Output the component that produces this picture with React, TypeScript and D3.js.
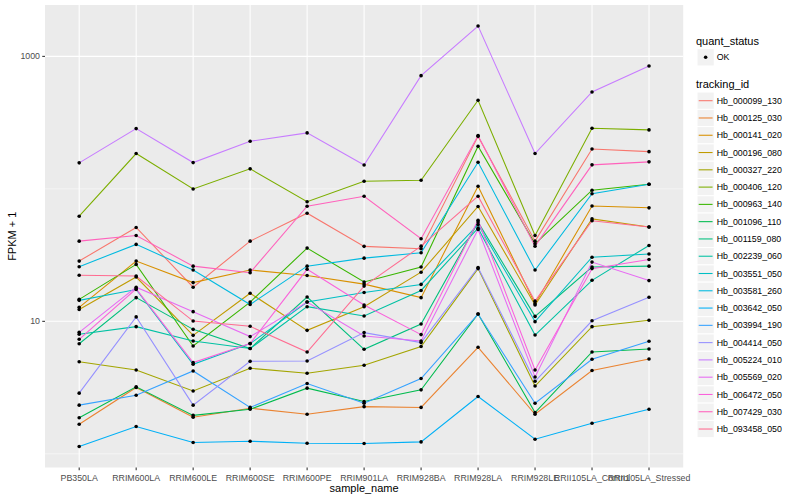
import React, { useEffect, useRef } from 'react'
import * as d3 from 'd3'

const sampleNames = [
  'PB350LA', 'RRIM600LA', 'RRIM600LE', 'RRIM600SE', 'RRIM600PE', 'RRIM901LA',
  'RRIM928BA', 'RRIM928LA', 'RRIM928LE', 'RRII105LA_Control', 'RRII105LA_Stressed'
]

const trackingIds = [
  'Hb_000099_130', 'Hb_000125_030', 'Hb_000141_020', 'Hb_000196_080', 'Hb_000327_220',
  'Hb_000406_120', 'Hb_000963_140', 'Hb_001096_110', 'Hb_001159_080', 'Hb_002239_060',
  'Hb_003551_050', 'Hb_003581_260', 'Hb_003642_050', 'Hb_003994_190', 'Hb_004414_050',
  'Hb_005224_010', 'Hb_005569_020', 'Hb_006472_050', 'Hb_007429_030', 'Hb_093458_050'
]

// ggplot hue palette, 20 levels
const trackingColors = [
  '#F8766D', '#EA8331', '#D89000', '#C09B00', '#A3A500', '#7CAE00', '#39B600', '#00BB4E',
  '#00BF7D', '#00C1A3', '#00BFC4', '#00BAE0', '#00B0F6', '#35A2FF', '#9590FF', '#C77CFF',
  '#E76BF3', '#FA62DB', '#FF62BC', '#FF6C91'
]

// FPKM + 1, one value per sample (same order as sampleNames)
const hb000099_130 = [28.5, 51.1, 18.1, 40.3, 65.5, 36.8, 35.3, 249, 40.3, 200, 191]
const hb000125_030 = [1.67, 3.17, 1.89, 2.21, 1.99, 2.27, 2.24, 6.37, 1.99, 4.25, 5.2]
const hb000141_020 = [12.75, 28.5, 19.6, 24.4, 22.2, 19.1, 15.1, 104.7, 13.6, 74.2, 71.9]
const hb000196_080 = [12.3, 21.6, 7.84, 16.3, 8.55, 12.9, 23.5, 73.6, 13.3, 59.3, 51.6]
const hb000327_220 = [4.95, 4.29, 2.98, 4.42, 4.06, 4.66, 6.45, 25, 3.25, 9.12, 10.2]
const hb000406_120 = [62.2, 184.7, 99.7, 141.6, 79.9, 114.2, 116.2, 466, 44.5, 286.6, 278.7]
const hb000963_140 = [14.65, 26.9, 6.51, 13.98, 35.7, 19.8, 25.7, 209.7, 38.5, 97.7, 108.4]
const hb001096_110 = [1.87, 3.2, 1.95, 2.17, 3.13, 2.48, 3.04, 11.35, 2.05, 5.87, 6.18]
const hb001159_080 = [6.77, 15.1, 8.7, 6.23, 15.25, 6.15, 9.54, 56.1, 10.9, 25.7, 26.1]
const hb002239_060 = [7.98, 9.12, 7.1, 6.23, 12.9, 10.96, 17.1, 50.5, 7.88, 20.4, 37.4]
const hb003551_050 = [14.4, 17.4, 4.74, 6.79, 13.98, 16.5, 19, 53.8, 9.95, 30.5, 32.2]
const hb003581_260 = [25.85, 38.1, 24.4, 13.4, 26.1, 30, 32.96, 158.8, 24.4, 91.8, 108.4]
const hb003642_050 = [1.136, 1.608, 1.218, 1.245, 1.203, 1.197, 1.23, 2.706, 1.289, 1.703, 2.171]
const hb003994_190 = [2.33, 2.77, 4.22, 2.24, 3.39, 2.41, 3.7, 11.35, 2.41, 5.17, 7.07]
const hb004414_050 = [2.87, 10.8, 2.33, 4.99, 5.02, 8.22, 6.91, 25.5, 3.53, 10.1, 15.2]
const hb005224_010 = [157.1, 285.1, 157.9, 228.7, 264.6, 151.3, 715.3, 1695, 184.7, 539, 846.5]
const hb005569_020 = [8.26, 18.1, 11.83, 7.67, 13.98, 7.75, 7.1, 49.4, 3.8, 28, 20.3]
const hb006472_050 = [7.32, 17.6, 4.88, 6.79, 24.7, 13.3, 7.94, 58, 4.29, 25, 29.3]
const hb007429_030 = [40.3, 44.5, 26.1, 23.3, 74, 88, 42, 252.5, 36.96, 151.8, 159.9]
const hb093458_050 = [22.3, 21.96, 10.05, 9.17, 5.87, 18.45, 36.96, 88, 14.2, 57.4, 51.6]

const seriesValues = [
  hb000099_130, hb000125_030, hb000141_020, hb000196_080, hb000327_220,
  hb000406_120, hb000963_140, hb001096_110, hb001159_080, hb002239_060,
  hb003551_050, hb003581_260, hb003642_050, hb003994_190, hb004414_050,
  hb005224_010, hb005569_020, hb006472_050, hb007429_030, hb093458_050
]

const majorBreaks = [10, 1000]
const minorBreaks = [1, 100, 10000]

const FONT = '"Liberation Sans", Arial, Helvetica, sans-serif'
const panel = { left: 45, right: 683.2, top: 5, bottom: 467.5 }

const App: React.FC = () => {
  const svgRef = useRef<SVGSVGElement>(null)

  useEffect(() => {
    if (!svgRef.current) return
    const svg = d3.select(svgRef.current)
    svg.selectAll('*').remove()

    const x = d3.scalePoint<string>()
      .domain(sampleNames)
      .range([panel.left, panel.right])
      .padding(0.6)

    // ggplot style 5% expansion on the log scale
    const logExt = d3.extent(seriesValues.flat(), v => Math.log10(v)) as [number, number]
    const pad = (logExt[1] - logExt[0]) * 0.05
    const y = d3.scaleLog()
      .domain([Math.pow(10, logExt[0] - pad), Math.pow(10, logExt[1] + pad)])
      .range([panel.bottom, panel.top])
    const [yLo, yHi] = y.domain()

    svg.append('rect')
      .attr('width', 800).attr('height', 500).attr('fill', '#ffffff')

    svg.append('rect')
      .attr('x', panel.left).attr('y', panel.top)
      .attr('width', panel.right - panel.left)
      .attr('height', panel.bottom - panel.top)
      .attr('fill', '#EBEBEB')

    const grid = svg.append('g')
    grid.selectAll('.minor')
      .data(minorBreaks.filter(b => b >= yLo && b <= yHi))
      .enter().append('line')
      .attr('x1', panel.left).attr('x2', panel.right)
      .attr('y1', d => y(d)).attr('y2', d => y(d))
      .attr('stroke', '#ffffff').attr('stroke-width', 0.53)
    grid.selectAll('.major')
      .data(majorBreaks)
      .enter().append('line')
      .attr('x1', panel.left).attr('x2', panel.right)
      .attr('y1', d => y(d)).attr('y2', d => y(d))
      .attr('stroke', '#ffffff').attr('stroke-width', 1.07)
    grid.selectAll('.vgrid')
      .data(sampleNames)
      .enter().append('line')
      .attr('x1', d => x(d)!).attr('x2', d => x(d)!)
      .attr('y1', panel.top).attr('y2', panel.bottom)
      .attr('stroke', '#ffffff').attr('stroke-width', 1.07)

    // lines
    const line = d3.line<number>()
      .x((d, i) => x(sampleNames[i])!)
      .y(d => y(d))

    svg.append('g').selectAll('path')
      .data(seriesValues)
      .enter().append('path')
      .attr('d', d => line(d))
      .attr('fill', 'none')
      .attr('stroke', (d, i) => trackingColors[i])
      .attr('stroke-width', 1.07)

    // points
    const pts = seriesValues.flatMap(vals => vals.map((v, i) => ({ s: sampleNames[i], v })))
    svg.append('g').selectAll('circle')
      .data(pts)
      .enter().append('circle')
      .attr('cx', d => x(d.s)!)
      .attr('cy', d => y(d.v))
      .attr('r', 1.8)
      .attr('fill', '#000000')

    // y axis
    const yAxis = svg.append('g')
    yAxis.selectAll('line')
      .data(majorBreaks)
      .enter().append('line')
      .attr('x1', panel.left - 2.75).attr('x2', panel.left)
      .attr('y1', d => y(d)).attr('y2', d => y(d))
      .attr('stroke', '#333333').attr('stroke-width', 1.07)
    yAxis.selectAll('text')
      .data(majorBreaks)
      .enter().append('text')
      .attr('x', panel.left - 5)
      .attr('y', d => y(d) + 3.1)
      .attr('text-anchor', 'end')
      .style('font-family', FONT).style('font-size', '8.8px')
      .attr('fill', '#4D4D4D')
      .text(d => String(d))

    // x axis
    const xAxis = svg.append('g')
    xAxis.selectAll('line')
      .data(sampleNames)
      .enter().append('line')
      .attr('x1', d => x(d)!).attr('x2', d => x(d)!)
      .attr('y1', panel.bottom).attr('y2', panel.bottom + 2.75)
      .attr('stroke', '#333333').attr('stroke-width', 1.07)
    xAxis.selectAll('text')
      .data(sampleNames)
      .enter().append('text')
      .attr('x', d => x(d)!)
      .attr('y', panel.bottom + 13)
      .attr('text-anchor', 'middle')
      .style('font-family', FONT).style('font-size', '8.8px')
      .attr('fill', '#4D4D4D')
      .text(d => d)

    svg.append('text')
      .attr('x', (panel.left + panel.right) / 2)
      .attr('y', 491.5)
      .attr('text-anchor', 'middle')
      .style('font-family', FONT).style('font-size', '11px')
      .attr('fill', '#000000')
      .text('sample_name')

    svg.append('text')
      .attr('transform', `translate(16,${(panel.top + panel.bottom) / 2}) rotate(-90)`)
      .attr('text-anchor', 'middle')
      .style('font-family', FONT).style('font-size', '11px')
      .attr('fill', '#000000')
      .text('FPKM + 1')

    // legend
    const keySize = 17.28
    const legX = 697
    const leg = svg.append('g')

    leg.append('text')
      .attr('x', legX - 1).attr('y', 44.5)
      .style('font-family', FONT).style('font-size', '11px')
      .text('quant_status')
    leg.append('rect')
      .attr('x', legX).attr('y', 57.3 - keySize / 2)
      .attr('width', keySize).attr('height', keySize)
      .attr('fill', '#F2F2F2').attr('stroke', '#ffffff').attr('stroke-width', 1)
    leg.append('circle')
      .attr('cx', legX + keySize / 2).attr('cy', 57.3).attr('r', 1.8).attr('fill', '#000000')
    leg.append('text')
      .attr('x', legX + keySize + 2.5).attr('y', 57.3 + 3.1)
      .style('font-family', FONT).style('font-size', '8.8px')
      .text('OK')

    leg.append('text')
      .attr('x', legX - 1).attr('y', 88)
      .style('font-family', FONT).style('font-size', '11px')
      .text('tracking_id')

    const firstKey = 100.7
    const keys = leg.selectAll('.key')
      .data(trackingIds)
      .enter().append('g')
      .attr('transform', (d, i) => `translate(${legX},${firstKey + i * keySize})`)
    keys.append('rect')
      .attr('x', 0).attr('y', -keySize / 2)
      .attr('width', keySize).attr('height', keySize)
      .attr('fill', '#F2F2F2').attr('stroke', '#ffffff').attr('stroke-width', 1)
    keys.append('line')
      .attr('x1', 1.7).attr('x2', keySize - 1.7)
      .attr('y1', 0).attr('y2', 0)
      .attr('stroke', (d, i) => trackingColors[i])
      .attr('stroke-width', 1.07)
    keys.append('text')
      .attr('x', keySize + 2.5).attr('y', 3.1)
      .style('font-family', FONT).style('font-size', '8.8px')
      .text(d => d)
  }, [])

  return (
    <svg
      ref={svgRef}
      width={800}
      height={500}
      style={{ position: 'absolute', left: 0, top: 0 }}
    />
  )
}

export default App
